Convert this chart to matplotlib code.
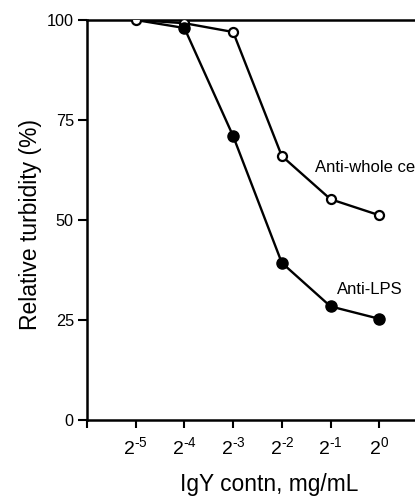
import numpy as np
import matplotlib
matplotlib.use("Agg")
import matplotlib.pyplot as plt

plt.rcParams["font.family"] = ["Liberation Sans", "DejaVu Sans"]
plt.rcParams["mathtext.fontset"] = "custom"
plt.rcParams["mathtext.rm"] = "Liberation Sans"

# data (x in log2 steps: 2^-5 .. 2^0)
exponents = [-5, -4, -3, -2, -1, 0]
anti_whole_cell = [100, 99.2, 97, 66, 55.2, 51.2]
anti_lps = [100, 98, 71, 39.3, 28.4, 25.3]
y_ticks = [0, 25, 50, 75, 100]

x = np.arange(1, len(exponents) + 1)


def pow2_label(e):
    # hyphen instead of the long math minus, as in the original
    sign = r"\text{-}" if e < 0 else ""
    return r"$\mathregular{2^{%s%d}}$" % (sign, abs(e))


fig = plt.figure(figsize=(4.15, 4.96), dpi=100)
# axes runs past the right edge, as in the cropped original
ax = fig.add_axes([87 / 415, 1 - 420 / 496, 362 / 415, 400 / 496])

lw = 1.7
ax.plot(x, anti_lps, "-", color="black", lw=lw, zorder=3)
ax.plot(x, anti_whole_cell, "-o", color="black", lw=lw, ms=6.5,
        mfc="white", mec="black", mew=1.6, zorder=4)
ax.plot(x[1:], anti_lps[1:], "o", color="black", ms=8, zorder=5)

ax.text(4.68, 63.2, "Anti-whole cell", fontsize=12, va="center", ha="left")
ax.text(5.13, 32.7, "Anti-LPS", fontsize=12, va="center", ha="left")

ax.set_xlim(0, 362 / 48.7)
ax.set_ylim(0, 100)
ax.set_xticks(np.arange(0, len(exponents) + 1))
ax.set_xticklabels([""] + [pow2_label(e) for e in exponents], fontsize=14)
ax.set_yticks(y_ticks)
ax.set_yticklabels([str(v) for v in y_ticks], fontsize=11.7)

ax.spines["right"].set_visible(False)
for s in ["left", "bottom", "top"]:
    ax.spines[s].set_linewidth(1.8)
ax.tick_params(axis="x", direction="out", length=6, width=1.5, pad=6)
ax.tick_params(axis="y", direction="out", length=6.5, width=1.5, pad=3)

fig.text(30 / 415, 1 - 225 / 496, "Relative turbidity (%)", rotation=90,
         fontsize=16.5, ha="center", va="center")
fig.text(269 / 415, 1 - 491 / 496, "IgY contn, mg/mL", fontsize=16.4,
         ha="center", va="baseline")

fig.savefig("out.png", dpi=100)
